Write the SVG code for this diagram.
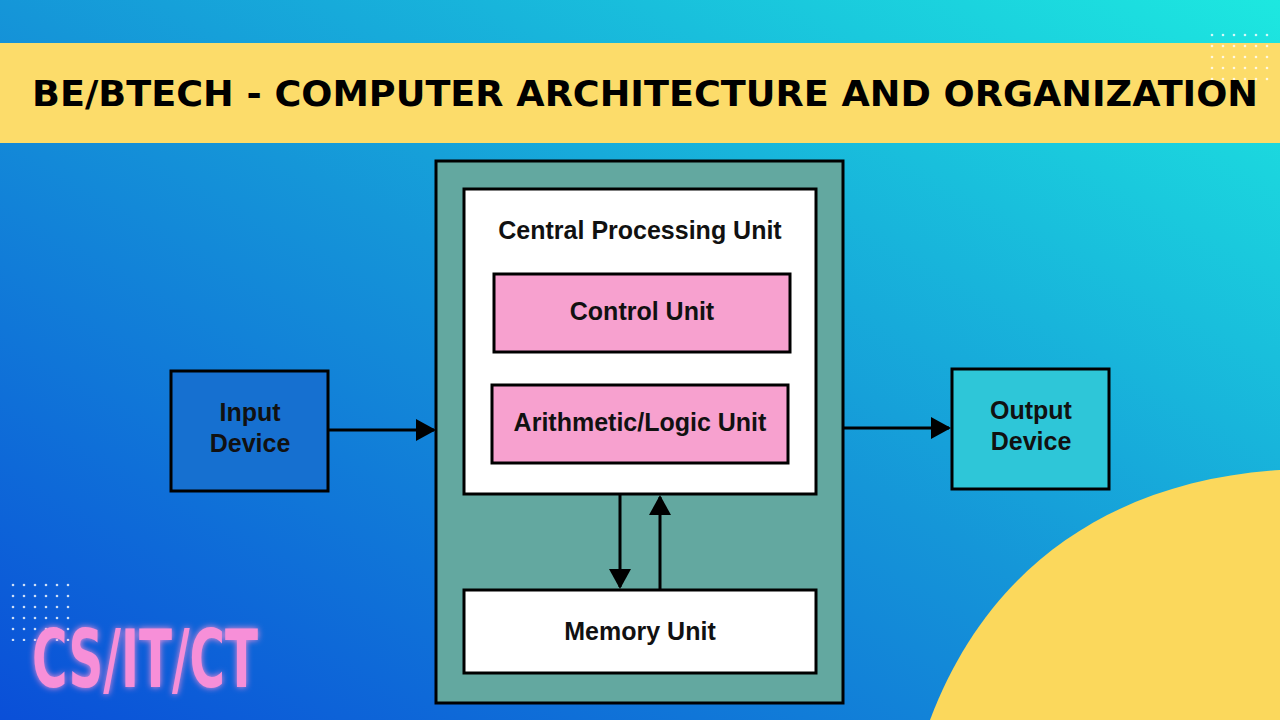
<svg xmlns="http://www.w3.org/2000/svg" width="1280" height="720" viewBox="0 0 1280 720">
<defs>
<linearGradient id="bg" x1="0" y1="1" x2="1" y2="0">
<stop offset="0" stop-color="#0a4fd8"/><stop offset="0.5" stop-color="#1596d8"/><stop offset="1" stop-color="#1de8e0"/>
</linearGradient>
<marker id="ah" markerWidth="20" markerHeight="22" refX="18" refY="11" orient="auto" markerUnits="userSpaceOnUse" viewBox="0 0 20 22"><path d="M0,0 L20,11 L0,22 z" fill="#000"/></marker>
<filter id="glow" x="-20%" y="-20%" width="140%" height="140%"><feGaussianBlur stdDeviation="3" result="b"/><feMerge><feMergeNode in="b"/><feMergeNode in="SourceGraphic"/></feMerge></filter>
<pattern id="dots" width="11" height="11" patternUnits="userSpaceOnUse"><circle cx="2" cy="2" r="1.3" fill="#fff"/></pattern>
</defs>
<style>
.t{font-family:"Liberation Sans",Arial,sans-serif;font-weight:bold;fill:#111;text-anchor:middle;font-size:25px}
.b{stroke:#000;stroke-width:3}
.ln{stroke:#000;stroke-width:3;fill:none}
</style>
<rect width="1280" height="720" fill="url(#bg)"/>
<path d="M930,720 C990,560 1120,480 1280,470 L1280,720 Z" fill="#fbd85c"/>
<rect x="0" y="43" width="1280" height="100" fill="#fcdc6a"/>
<rect x="1207" y="26" width="66" height="56" fill="url(#dots)" opacity="0.8"/>
<rect x="8" y="581" width="62" height="60" fill="url(#dots)" opacity="0.8"/>
<text x="645" y="106" font-family="DejaVu Sans,sans-serif" font-weight="bold" font-size="35" text-anchor="middle" textLength="1226" lengthAdjust="spacingAndGlyphs" fill="#000">BE/BTECH - COMPUTER ARCHITECTURE AND ORGANIZATION</text>
<text x="32" y="687" font-family="DejaVu Sans Condensed,sans-serif" font-weight="bold" font-size="80" textLength="226" lengthAdjust="spacingAndGlyphs" fill="#f78fd8" filter="url(#glow)">CS/IT/CT</text>
<g id="outer"><rect class="b" x="436" y="161" width="407" height="542" fill="#63a8a0"/></g>
<g id="cpu"><rect class="b" x="464" y="189" width="352" height="305" fill="#fff"/><text class="t" x="640" y="239">Central Processing Unit</text></g>
<g id="control"><rect class="b" x="494" y="274" width="296" height="78" fill="#f7a1cf"/><text class="t" x="642" y="320">Control Unit</text></g>
<g id="alu"><rect class="b" x="492" y="385" width="296" height="78" fill="#f7a1cf"/><text class="t" x="640" y="431">Arithmetic/Logic Unit</text></g>
<g id="memory"><rect class="b" x="464" y="590" width="352" height="83" fill="#fff"/><text class="t" x="640" y="640">Memory Unit</text></g>
<g id="input"><rect class="b" x="171" y="371" width="157" height="120" fill="#1670d0"/><text class="t" x="250" y="421">Input</text><text class="t" x="250" y="452">Device</text></g>
<g id="output"><rect class="b" x="952" y="369" width="157" height="120" fill="#2ec6d8"/><text class="t" x="1031" y="419">Output</text><text class="t" x="1031" y="450">Device</text></g>
<g id="connectors">
<line class="ln" x1="328" y1="430" x2="434" y2="430" marker-end="url(#ah)"/>
<line class="ln" x1="843" y1="428" x2="949" y2="428" marker-end="url(#ah)"/>
<line class="ln" x1="620" y1="494" x2="620" y2="587" marker-end="url(#ah)"/>
<line class="ln" x1="660" y1="590" x2="660" y2="497" marker-end="url(#ah)"/>
</g>
</svg>
